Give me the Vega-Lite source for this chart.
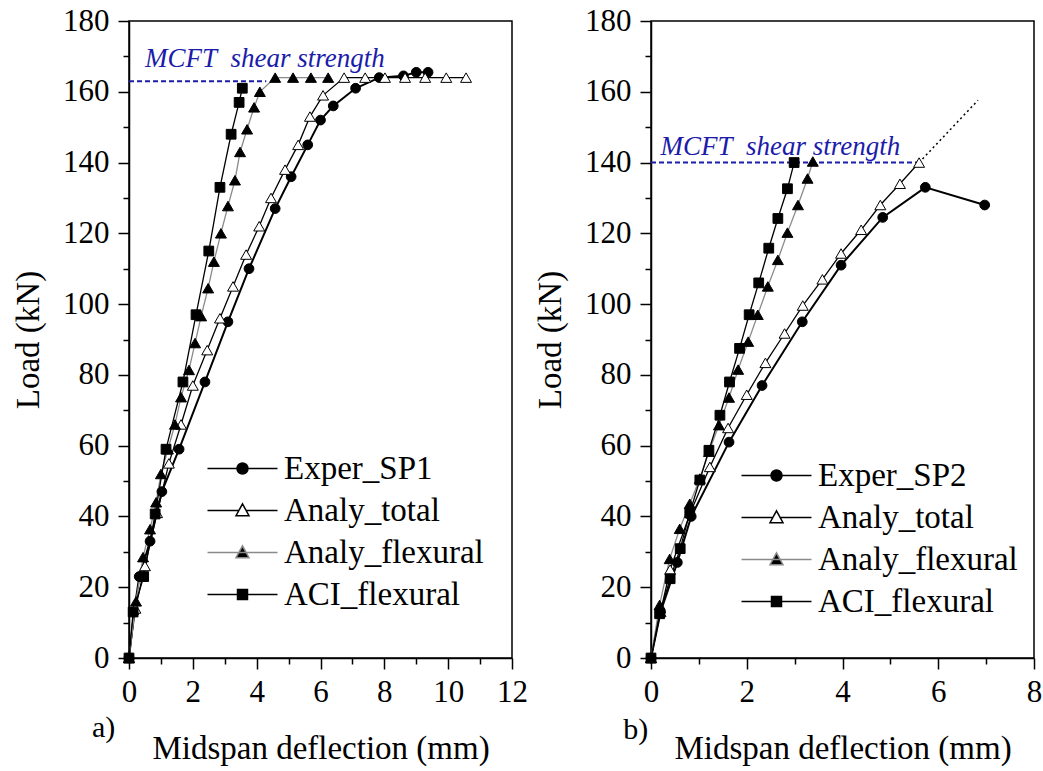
{
  "$schema": "https://vega.github.io/schema/vega-lite/v6.json",
  "background": "white",
  "padding": {"left": 11, "top": 4, "right": 5, "bottom": 5},
  "bounds": "flush",
  "spacing": 139,
  "config": {
    "view": {"stroke": "black", "strokeWidth": 1.5},
    "font": "Liberation Serif",
    "axis": {"labelFont": "Liberation Serif", "labelFontSize": 31, "labelColor": "black", "titleFont": "Liberation Serif", "titleFontSize": 33, "titleFontWeight": "normal", "titleColor": "black", "domainColor": "black", "domainWidth": 1.5, "tickColor": "black", "tickWidth": 1.5, "grid": false, "labelFlush": false, "labelOverlap": false},
    "legend": {"labelFont": "Liberation Serif", "labelFontSize": 33, "labelColor": "black", "labelLimit": 400, "padding": 0, "rowPadding": 8, "symbolOffset": 19, "labelOffset": 25, "title": null}
  },
  "datasets": {
    "curves": [
      {"panel": "a", "series": "Exper_SP1", "x": 0, "y": 0},
      {"panel": "a", "series": "Exper_SP1", "x": 0.16, "y": 13},
      {"panel": "a", "series": "Exper_SP1", "x": 0.32, "y": 23},
      {"panel": "a", "series": "Exper_SP1", "x": 0.66, "y": 33},
      {"panel": "a", "series": "Exper_SP1", "x": 1.03, "y": 47},
      {"panel": "a", "series": "Exper_SP1", "x": 1.57, "y": 59},
      {"panel": "a", "series": "Exper_SP1", "x": 2.38, "y": 78},
      {"panel": "a", "series": "Exper_SP1", "x": 3.1, "y": 95},
      {"panel": "a", "series": "Exper_SP1", "x": 3.76, "y": 110},
      {"panel": "a", "series": "Exper_SP1", "x": 4.58, "y": 127},
      {"panel": "a", "series": "Exper_SP1", "x": 5.08, "y": 136},
      {"panel": "a", "series": "Exper_SP1", "x": 5.6, "y": 145},
      {"panel": "a", "series": "Exper_SP1", "x": 6.0, "y": 152},
      {"panel": "a", "series": "Exper_SP1", "x": 6.4, "y": 156},
      {"panel": "a", "series": "Exper_SP1", "x": 7.1, "y": 161},
      {"panel": "a", "series": "Exper_SP1", "x": 7.84, "y": 164},
      {"panel": "a", "series": "Exper_SP1", "x": 8.6, "y": 164.5},
      {"panel": "a", "series": "Exper_SP1", "x": 9.0, "y": 165.5},
      {"panel": "a", "series": "Exper_SP1", "x": 9.37, "y": 165.5},
      {"panel": "a", "series": "Analy_total", "x": 0, "y": 0},
      {"panel": "a", "series": "Analy_total", "x": 0.2, "y": 14},
      {"panel": "a", "series": "Analy_total", "x": 0.5, "y": 26},
      {"panel": "a", "series": "Analy_total", "x": 0.88, "y": 41},
      {"panel": "a", "series": "Analy_total", "x": 1.25, "y": 55},
      {"panel": "a", "series": "Analy_total", "x": 1.63, "y": 66},
      {"panel": "a", "series": "Analy_total", "x": 2.0, "y": 77},
      {"panel": "a", "series": "Analy_total", "x": 2.45, "y": 87},
      {"panel": "a", "series": "Analy_total", "x": 2.85, "y": 96},
      {"panel": "a", "series": "Analy_total", "x": 3.26, "y": 105},
      {"panel": "a", "series": "Analy_total", "x": 3.67, "y": 114},
      {"panel": "a", "series": "Analy_total", "x": 4.08, "y": 122},
      {"panel": "a", "series": "Analy_total", "x": 4.45, "y": 130},
      {"panel": "a", "series": "Analy_total", "x": 4.89, "y": 138},
      {"panel": "a", "series": "Analy_total", "x": 5.3, "y": 145},
      {"panel": "a", "series": "Analy_total", "x": 5.67, "y": 153},
      {"panel": "a", "series": "Analy_total", "x": 6.08, "y": 159},
      {"panel": "a", "series": "Analy_total", "x": 6.74, "y": 164},
      {"panel": "a", "series": "Analy_total", "x": 7.4, "y": 164},
      {"panel": "a", "series": "Analy_total", "x": 8.02, "y": 164},
      {"panel": "a", "series": "Analy_total", "x": 8.65, "y": 164},
      {"panel": "a", "series": "Analy_total", "x": 9.28, "y": 164},
      {"panel": "a", "series": "Analy_total", "x": 9.94, "y": 164},
      {"panel": "a", "series": "Analy_total", "x": 10.56, "y": 164},
      {"panel": "a", "series": "Analy_flexural", "x": 0, "y": 0},
      {"panel": "a", "series": "Analy_flexural", "x": 0.22, "y": 16},
      {"panel": "a", "series": "Analy_flexural", "x": 0.44, "y": 28.5},
      {"panel": "a", "series": "Analy_flexural", "x": 0.66, "y": 36.4},
      {"panel": "a", "series": "Analy_flexural", "x": 0.85, "y": 44},
      {"panel": "a", "series": "Analy_flexural", "x": 1.0, "y": 52},
      {"panel": "a", "series": "Analy_flexural", "x": 1.22, "y": 59},
      {"panel": "a", "series": "Analy_flexural", "x": 1.44, "y": 66},
      {"panel": "a", "series": "Analy_flexural", "x": 1.63, "y": 73.7},
      {"panel": "a", "series": "Analy_flexural", "x": 1.88, "y": 81.4},
      {"panel": "a", "series": "Analy_flexural", "x": 2.07, "y": 89},
      {"panel": "a", "series": "Analy_flexural", "x": 2.26, "y": 96.6},
      {"panel": "a", "series": "Analy_flexural", "x": 2.48, "y": 104.5},
      {"panel": "a", "series": "Analy_flexural", "x": 2.66, "y": 112},
      {"panel": "a", "series": "Analy_flexural", "x": 2.88, "y": 120},
      {"panel": "a", "series": "Analy_flexural", "x": 3.1, "y": 127.7},
      {"panel": "a", "series": "Analy_flexural", "x": 3.32, "y": 135},
      {"panel": "a", "series": "Analy_flexural", "x": 3.48, "y": 143},
      {"panel": "a", "series": "Analy_flexural", "x": 3.7, "y": 149.4},
      {"panel": "a", "series": "Analy_flexural", "x": 3.92, "y": 155.6},
      {"panel": "a", "series": "Analy_flexural", "x": 4.1, "y": 160},
      {"panel": "a", "series": "Analy_flexural", "x": 4.58, "y": 164},
      {"panel": "a", "series": "Analy_flexural", "x": 5.14, "y": 164},
      {"panel": "a", "series": "Analy_flexural", "x": 5.7, "y": 164},
      {"panel": "a", "series": "Analy_flexural", "x": 6.24, "y": 164},
      {"panel": "a", "series": "ACI_flexural", "x": 0, "y": 0},
      {"panel": "a", "series": "ACI_flexural", "x": 0.13, "y": 13},
      {"panel": "a", "series": "ACI_flexural", "x": 0.46, "y": 23},
      {"panel": "a", "series": "ACI_flexural", "x": 0.82, "y": 40.7},
      {"panel": "a", "series": "ACI_flexural", "x": 1.16, "y": 59},
      {"panel": "a", "series": "ACI_flexural", "x": 1.69, "y": 78},
      {"panel": "a", "series": "ACI_flexural", "x": 2.1, "y": 97},
      {"panel": "a", "series": "ACI_flexural", "x": 2.5, "y": 115},
      {"panel": "a", "series": "ACI_flexural", "x": 2.85, "y": 133},
      {"panel": "a", "series": "ACI_flexural", "x": 3.2, "y": 148},
      {"panel": "a", "series": "ACI_flexural", "x": 3.45, "y": 157},
      {"panel": "a", "series": "ACI_flexural", "x": 3.55, "y": 161},
      {"panel": "b", "series": "Exper_SP2", "x": 0, "y": 0},
      {"panel": "b", "series": "Exper_SP2", "x": 0.2, "y": 13},
      {"panel": "b", "series": "Exper_SP2", "x": 0.55, "y": 27},
      {"panel": "b", "series": "Exper_SP2", "x": 0.84, "y": 40},
      {"panel": "b", "series": "Exper_SP2", "x": 1.63, "y": 61},
      {"panel": "b", "series": "Exper_SP2", "x": 2.32, "y": 77},
      {"panel": "b", "series": "Exper_SP2", "x": 3.16, "y": 95},
      {"panel": "b", "series": "Exper_SP2", "x": 3.97, "y": 111},
      {"panel": "b", "series": "Exper_SP2", "x": 4.84, "y": 124.5},
      {"panel": "b", "series": "Exper_SP2", "x": 5.73, "y": 133},
      {"panel": "b", "series": "Exper_SP2", "x": 6.97, "y": 128},
      {"panel": "b", "series": "Analy_total", "x": 0, "y": 0},
      {"panel": "b", "series": "Analy_total", "x": 0.2, "y": 13},
      {"panel": "b", "series": "Analy_total", "x": 0.4, "y": 25},
      {"panel": "b", "series": "Analy_total", "x": 0.82, "y": 41},
      {"panel": "b", "series": "Analy_total", "x": 1.23, "y": 54},
      {"panel": "b", "series": "Analy_total", "x": 1.61, "y": 65},
      {"panel": "b", "series": "Analy_total", "x": 2.0, "y": 74.4},
      {"panel": "b", "series": "Analy_total", "x": 2.39, "y": 83.4},
      {"panel": "b", "series": "Analy_total", "x": 2.79, "y": 91.7},
      {"panel": "b", "series": "Analy_total", "x": 3.17, "y": 99.6},
      {"panel": "b", "series": "Analy_total", "x": 3.58, "y": 107},
      {"panel": "b", "series": "Analy_total", "x": 3.97, "y": 114.3},
      {"panel": "b", "series": "Analy_total", "x": 4.39, "y": 121},
      {"panel": "b", "series": "Analy_total", "x": 4.79, "y": 128},
      {"panel": "b", "series": "Analy_total", "x": 5.2, "y": 134},
      {"panel": "b", "series": "Analy_total", "x": 5.6, "y": 140},
      {"panel": "b", "series": "Analy_flexural", "x": 0, "y": 0},
      {"panel": "b", "series": "Analy_flexural", "x": 0.18, "y": 15},
      {"panel": "b", "series": "Analy_flexural", "x": 0.39, "y": 28},
      {"panel": "b", "series": "Analy_flexural", "x": 0.6, "y": 36.5},
      {"panel": "b", "series": "Analy_flexural", "x": 0.81, "y": 43.6},
      {"panel": "b", "series": "Analy_flexural", "x": 1.02, "y": 50.7},
      {"panel": "b", "series": "Analy_flexural", "x": 1.21, "y": 58.3},
      {"panel": "b", "series": "Analy_flexural", "x": 1.42, "y": 65.8},
      {"panel": "b", "series": "Analy_flexural", "x": 1.63, "y": 73.6},
      {"panel": "b", "series": "Analy_flexural", "x": 1.82, "y": 81.5},
      {"panel": "b", "series": "Analy_flexural", "x": 2.03, "y": 89.4},
      {"panel": "b", "series": "Analy_flexural", "x": 2.23, "y": 97},
      {"panel": "b", "series": "Analy_flexural", "x": 2.44, "y": 105},
      {"panel": "b", "series": "Analy_flexural", "x": 2.65, "y": 112.5},
      {"panel": "b", "series": "Analy_flexural", "x": 2.85, "y": 120.2},
      {"panel": "b", "series": "Analy_flexural", "x": 3.07, "y": 128},
      {"panel": "b", "series": "Analy_flexural", "x": 3.27, "y": 135.5},
      {"panel": "b", "series": "Analy_flexural", "x": 3.38, "y": 140.3},
      {"panel": "b", "series": "ACI_flexural", "x": 0, "y": 0},
      {"panel": "b", "series": "ACI_flexural", "x": 0.18, "y": 12.5},
      {"panel": "b", "series": "ACI_flexural", "x": 0.4, "y": 22.4},
      {"panel": "b", "series": "ACI_flexural", "x": 0.61, "y": 30.9},
      {"panel": "b", "series": "ACI_flexural", "x": 0.81, "y": 41},
      {"panel": "b", "series": "ACI_flexural", "x": 1.02, "y": 50.3},
      {"panel": "b", "series": "ACI_flexural", "x": 1.21, "y": 58.7},
      {"panel": "b", "series": "ACI_flexural", "x": 1.44, "y": 68.6},
      {"panel": "b", "series": "ACI_flexural", "x": 1.64, "y": 78},
      {"panel": "b", "series": "ACI_flexural", "x": 1.85, "y": 87.5},
      {"panel": "b", "series": "ACI_flexural", "x": 2.05, "y": 97},
      {"panel": "b", "series": "ACI_flexural", "x": 2.25, "y": 106},
      {"panel": "b", "series": "ACI_flexural", "x": 2.46, "y": 115.8},
      {"panel": "b", "series": "ACI_flexural", "x": 2.65, "y": 124.2},
      {"panel": "b", "series": "ACI_flexural", "x": 2.85, "y": 132.6},
      {"panel": "b", "series": "ACI_flexural", "x": 2.99, "y": 140}
    ]
  },
  "hconcat": [
    {
      "width": 383,
      "height": 637,
      "layer": [
        {
          "data": {"values": [{}]},
          "mark": {"type": "rule", "stroke": "#1c1caa", "strokeWidth": 2, "strokeDash": [5, 3]},
          "encoding": {
            "x": {"datum": 0, "type": "quantitative", "scale": {"domain": [0, 12], "nice": false, "zero": false}, "axis": {"orient": "bottom", "values": [1, 3, 5, 7, 9, 11], "tickSize": 6, "labels": false, "domain": false, "title": null}},
            "x2": {"datum": 4.3},
            "y": {"datum": 163, "type": "quantitative", "scale": {"domain": [0, 180], "nice": false, "zero": false}, "axis": {"orient": "left", "values": [10, 30, 50, 70, 90, 110, 130, 150, 170], "tickSize": 6, "labels": false, "domain": false, "title": null}}
          }
        },
        {
          "data": {"name": "curves"},
          "transform": [{"filter": "datum.panel == 'a'"}],
          "mark": {"type": "line"},
          "encoding": {
            "x": {"field": "x", "type": "quantitative", "scale": {"domain": [0, 12], "nice": false, "zero": false}, "axis": {"orient": "bottom", "values": [0, 2, 4, 6, 8, 10, 12], "tickSize": 11, "labelPadding": 8, "title": "Midspan deflection (mm)", "titlePadding": 25}},
            "y": {"field": "y", "type": "quantitative", "scale": {"domain": [0, 180], "nice": false, "zero": false}, "axis": {"orient": "left", "values": [0, 20, 40, 60, 80, 100, 120, 140, 160, 180], "tickSize": 11, "labelPadding": 9, "title": "Load (kN)", "titlePadding": 17}},
            "stroke": {
              "field": "series", "type": "nominal",
              "scale": {"domain": ["Exper_SP1", "Analy_total", "Analy_flexural", "ACI_flexural"], "range": ["black", "black", "#8a8a8a", "black"]},
              "legend": {
                "orient": "none", "legendX": 78, "legendY": 431,
                "encoding": {"symbols": {
                  "size": {"value": 900},
                  "strokeWidth": {"value": 1.5},
                  "shape": {"value": {"expr": "indexof(datum.value,'Exper')==0 ? 'M-2.333,0H2.333M0.367,0A0.367,0.367,0,1,1,-0.367,0A0.367,0.367,0,1,1,0.367,0Z' : indexof(datum.value,'total')>=0 ? 'M-2.333,0H-0.242M0.242,0H2.333M0,-0.443L0.433,0.35L-0.433,0.35Z' : indexof(datum.value,'Analy')==0 ? 'M-2.333,0H2.333M0,-0.443L0.433,0.35L-0.433,0.35Z' : 'M-2.333,0H2.333M-0.333,-0.333H0.333V0.333H-0.333Z'"}},
                  "fill": {"value": {"expr": "indexof(datum.value,'total')>=0 ? 'white' : 'black'"}}
                }}
              }
            },
            "strokeWidth": {"condition": {"test": "indexof(datum.series,'Exper')==0", "value": 2}, "value": 1.3}
          }
        },
        {
          "data": {"name": "curves"},
          "transform": [{"filter": "datum.panel == 'a'"}],
          "mark": {"type": "point", "filled": true, "stroke": "black", "strokeWidth": 1, "opacity": 1},
          "encoding": {
            "x": {"field": "x", "type": "quantitative", "axis": null},
            "y": {"field": "y", "type": "quantitative", "axis": null},
            "shape": {"condition": [{"test": "indexof(datum.series,'Exper')==0", "value": "circle"}, {"test": "indexof(datum.series,'ACI')==0", "value": "square"}], "value": "triangle-up"},
            "fill": {"condition": {"test": "indexof(datum.series,'total')>=0", "value": "white"}, "value": "black"},
            "size": {"condition": {"test": "indexof(datum.series,'Analy')==0", "value": 120}, "value": 95}
          }
        },
        {
          "data": {"values": [{}]},
          "mark": {"type": "text", "text": "MCFT\u00a0 shear strength", "font": "Liberation Serif", "fontStyle": "italic", "fontSize": 27, "fill": "#1c1caa", "align": "left", "baseline": "alphabetic"},
          "encoding": {
            "x": {"datum": 0.5, "type": "quantitative", "axis": null},
            "y": {"datum": 167, "type": "quantitative", "axis": null}
          }
        },
        {
          "data": {"values": [{}]},
          "mark": {"type": "text", "text": "a)", "font": "Liberation Serif", "fontSize": 30, "fill": "black", "align": "left", "baseline": "alphabetic"},
          "encoding": {
            "x": {"datum": -1.16, "type": "quantitative", "axis": null},
            "y": {"datum": -22.3, "type": "quantitative", "axis": null}
          }
        }
      ],
      "resolve": {"axis": {"x": "independent", "y": "independent"}}
    },
    {
      "width": 383,
      "height": 637,
      "layer": [
        {
          "data": {"values": [{}]},
          "mark": {"type": "rule", "stroke": "#1c1caa", "strokeWidth": 2, "strokeDash": [5, 3]},
          "encoding": {
            "x": {"datum": 0, "type": "quantitative", "scale": {"domain": [0, 8], "nice": false, "zero": false}, "axis": {"orient": "bottom", "values": [1, 3, 5, 7], "tickSize": 6, "labels": false, "domain": false, "title": null}},
            "x2": {"datum": 5.6},
            "y": {"datum": 140, "type": "quantitative", "scale": {"domain": [0, 180], "nice": false, "zero": false}, "axis": {"orient": "left", "values": [10, 30, 50, 70, 90, 110, 130, 150, 170], "tickSize": 6, "labels": false, "domain": false, "title": null}}
          }
        },
        {
          "data": {"values": [{}]},
          "mark": {"type": "rule", "stroke": "black", "strokeWidth": 1.5, "strokeDash": [2, 3]},
          "encoding": {
            "x": {"datum": 5.6, "type": "quantitative", "axis": null},
            "x2": {"datum": 6.83},
            "y": {"datum": 140, "type": "quantitative", "axis": null},
            "y2": {"datum": 157.6}
          }
        },
        {
          "data": {"name": "curves"},
          "transform": [{"filter": "datum.panel == 'b'"}],
          "mark": {"type": "line"},
          "encoding": {
            "x": {"field": "x", "type": "quantitative", "scale": {"domain": [0, 8], "nice": false, "zero": false}, "axis": {"orient": "bottom", "values": [0, 2, 4, 6, 8], "tickSize": 11, "labelPadding": 8, "title": "Midspan deflection (mm)", "titlePadding": 25}},
            "y": {"field": "y", "type": "quantitative", "scale": {"domain": [0, 180], "nice": false, "zero": false}, "axis": {"orient": "left", "values": [0, 20, 40, 60, 80, 100, 120, 140, 160, 180], "tickSize": 11, "labelPadding": 9, "title": "Load (kN)", "titlePadding": 17}},
            "stroke": {
              "field": "series", "type": "nominal",
              "scale": {"domain": ["Exper_SP2", "Analy_total", "Analy_flexural", "ACI_flexural"], "range": ["black", "black", "#8a8a8a", "black"]},
              "legend": {
                "orient": "none", "legendX": 90, "legendY": 438,
                "encoding": {"symbols": {
                  "size": {"value": 900},
                  "strokeWidth": {"value": 1.5},
                  "shape": {"value": {"expr": "indexof(datum.value,'Exper')==0 ? 'M-2.333,0H2.333M0.367,0A0.367,0.367,0,1,1,-0.367,0A0.367,0.367,0,1,1,0.367,0Z' : indexof(datum.value,'total')>=0 ? 'M-2.333,0H-0.242M0.242,0H2.333M0,-0.443L0.433,0.35L-0.433,0.35Z' : indexof(datum.value,'Analy')==0 ? 'M-2.333,0H2.333M0,-0.443L0.433,0.35L-0.433,0.35Z' : 'M-2.333,0H2.333M-0.333,-0.333H0.333V0.333H-0.333Z'"}},
                  "fill": {"value": {"expr": "indexof(datum.value,'total')>=0 ? 'white' : 'black'"}}
                }}
              }
            },
            "strokeWidth": {"condition": {"test": "indexof(datum.series,'Exper')==0", "value": 2}, "value": 1.3}
          }
        },
        {
          "data": {"name": "curves"},
          "transform": [{"filter": "datum.panel == 'b'"}],
          "mark": {"type": "point", "filled": true, "stroke": "black", "strokeWidth": 1, "opacity": 1},
          "encoding": {
            "x": {"field": "x", "type": "quantitative", "axis": null},
            "y": {"field": "y", "type": "quantitative", "axis": null},
            "shape": {"condition": [{"test": "indexof(datum.series,'Exper')==0", "value": "circle"}, {"test": "indexof(datum.series,'ACI')==0", "value": "square"}], "value": "triangle-up"},
            "fill": {"condition": {"test": "indexof(datum.series,'total')>=0", "value": "white"}, "value": "black"},
            "size": {"condition": {"test": "indexof(datum.series,'Analy')==0", "value": 120}, "value": 95}
          }
        },
        {
          "data": {"values": [{}]},
          "mark": {"type": "text", "text": "MCFT\u00a0 shear strength", "font": "Liberation Serif", "fontStyle": "italic", "fontSize": 27, "fill": "#1c1caa", "align": "left", "baseline": "alphabetic"},
          "encoding": {
            "x": {"datum": 0.2, "type": "quantitative", "axis": null},
            "y": {"datum": 142, "type": "quantitative", "axis": null}
          }
        },
        {
          "data": {"values": [{}]},
          "mark": {"type": "text", "text": "b)", "font": "Liberation Serif", "fontSize": 30, "fill": "black", "align": "left", "baseline": "alphabetic"},
          "encoding": {
            "x": {"datum": -0.58, "type": "quantitative", "axis": null},
            "y": {"datum": -23, "type": "quantitative", "axis": null}
          }
        }
      ],
      "resolve": {"axis": {"x": "independent", "y": "independent"}}
    }
  ],
  "resolve": {"scale": {"x": "independent", "y": "independent", "stroke": "independent"}, "legend": {"stroke": "independent"}}
}
